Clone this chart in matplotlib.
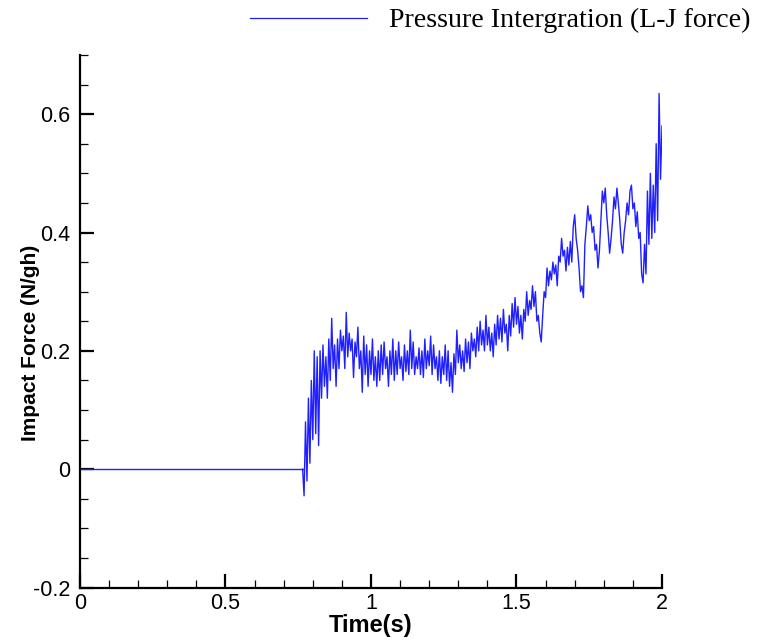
import numpy as np
import matplotlib
matplotlib.use("Agg")
import matplotlib.pyplot as plt
from matplotlib.lines import Line2D
from matplotlib.ticker import MultipleLocator

# --- donnees ---
t_repos = [0.0, 0.765]
f_repos = [0.0, 0.0]

t_debut = 0.765
pas = 0.005
force = [
    0.0, -0.045, 0.08, -0.02, 0.12, 0.01, 0.15, 0.05, 0.20, 0.06,
    0.19, 0.04, 0.2, 0.12, 0.21, 0.14, 0.19, 0.12, 0.22, 0.15,
    0.255, 0.17, 0.21, 0.14, 0.22, 0.17, 0.235, 0.2, 0.225, 0.17,
    0.265, 0.19, 0.23, 0.2, 0.22, 0.155, 0.215, 0.19, 0.24, 0.17,
    0.2, 0.13, 0.225, 0.16, 0.21, 0.14, 0.2, 0.16, 0.22, 0.15,
    0.19, 0.14, 0.2, 0.15, 0.21, 0.16, 0.215, 0.17, 0.19, 0.14,
    0.2, 0.16, 0.22, 0.15, 0.2, 0.16, 0.215, 0.17, 0.19, 0.15,
    0.21, 0.165, 0.2, 0.16, 0.235, 0.17, 0.215, 0.16, 0.19, 0.17,
    0.205, 0.16, 0.2, 0.155, 0.22, 0.17, 0.2, 0.175, 0.225, 0.16,
    0.21, 0.17, 0.19, 0.15, 0.2, 0.145, 0.19, 0.16, 0.21, 0.15,
    0.2, 0.14, 0.18, 0.13, 0.195, 0.16, 0.235, 0.18, 0.21, 0.17,
    0.2, 0.165, 0.22, 0.18, 0.215, 0.17, 0.23, 0.2, 0.22, 0.19,
    0.24, 0.2, 0.25, 0.21, 0.235, 0.2, 0.26, 0.21, 0.24, 0.2,
    0.23, 0.19, 0.245, 0.21, 0.26, 0.22, 0.255, 0.215, 0.27, 0.23,
    0.245, 0.2, 0.26, 0.225, 0.28, 0.24, 0.29, 0.245, 0.275, 0.23,
    0.26, 0.22, 0.27, 0.25, 0.3, 0.26, 0.285, 0.27, 0.31, 0.275,
    0.3, 0.25, 0.26, 0.23, 0.215, 0.26, 0.3, 0.29, 0.34, 0.31,
    0.335, 0.32, 0.35, 0.33, 0.345, 0.31, 0.36, 0.35, 0.39, 0.36,
    0.37, 0.335, 0.375, 0.345, 0.385, 0.35, 0.41, 0.43, 0.39, 0.37,
    0.34, 0.3, 0.31, 0.29, 0.38, 0.41, 0.445, 0.42, 0.43, 0.4,
    0.41, 0.37, 0.38, 0.34, 0.37, 0.42, 0.47, 0.45, 0.475, 0.43,
    0.4, 0.365, 0.39, 0.42, 0.46, 0.44, 0.475, 0.45, 0.42, 0.38,
    0.365, 0.4, 0.42, 0.45, 0.43, 0.47, 0.48, 0.44, 0.45, 0.41,
    0.435, 0.39, 0.4, 0.33, 0.315, 0.38, 0.33, 0.47, 0.38, 0.5,
    0.39, 0.48, 0.40, 0.55, 0.42, 0.635, 0.49, 0.58,
]
temps = t_debut + pas * np.arange(len(force))

legende = "Pressure Intergration (L-J force)"
x_label = "Time(s)"
y_label = "Impact Force (N/gh)"

plt.rcParams['font.family'] = ['Liberation Sans', 'DejaVu Sans']

fig = plt.figure(figsize=(7.59, 6.44), dpi=100)
ax = fig.add_axes([0.1054, 0.0877, 0.7668, 0.8269])

bleu = '#2020ff'
ax.plot(t_repos, f_repos, color=bleu, lw=1.0)
ax.plot(temps, force, color=bleu, lw=1.0)

ax.set_xlim(0, 2)
ax.set_ylim(-0.2, 0.7)
ax.xaxis.set_major_locator(MultipleLocator(0.5))
ax.xaxis.set_minor_locator(MultipleLocator(0.1))
ax.yaxis.set_major_locator(MultipleLocator(0.2))
ax.yaxis.set_minor_locator(MultipleLocator(0.05))
ax.xaxis.set_major_formatter(plt.FuncFormatter(lambda v, p: '%g' % round(v, 3)))
ax.yaxis.set_major_formatter(plt.FuncFormatter(lambda v, p: '%g' % round(v, 3)))

for cote in ['top', 'right']:
    ax.spines[cote].set_visible(False)
for cote in ['left', 'bottom']:
    ax.spines[cote].set_linewidth(1.6)

ax.tick_params(which='major', direction='in', length=10, width=1.6,
               labelsize=15.5, pad=4)
ax.tick_params(which='minor', direction='in', length=6, width=0.9)
ax.tick_params(axis='y', which='major', pad=7)

ax.set_xlabel(x_label, fontsize=17, fontweight='bold', labelpad=0)
ax.set_ylabel(y_label, fontsize=15, fontweight='bold')
ax.yaxis.set_label_coords(-0.069, 0.46)

# legende facon Tecplot, en haut a droite
fig.add_artist(Line2D([250 / 759, 367 / 759], [1 - 18 / 644, 1 - 18 / 644],
                      color=bleu, lw=0.9, transform=fig.transFigure))
fig.text(389 / 759, 1 - 20 / 644, legende, family='Liberation Serif',
         fontsize=20.2, va='center', ha='left')

fig.savefig('out.png', dpi=100)
